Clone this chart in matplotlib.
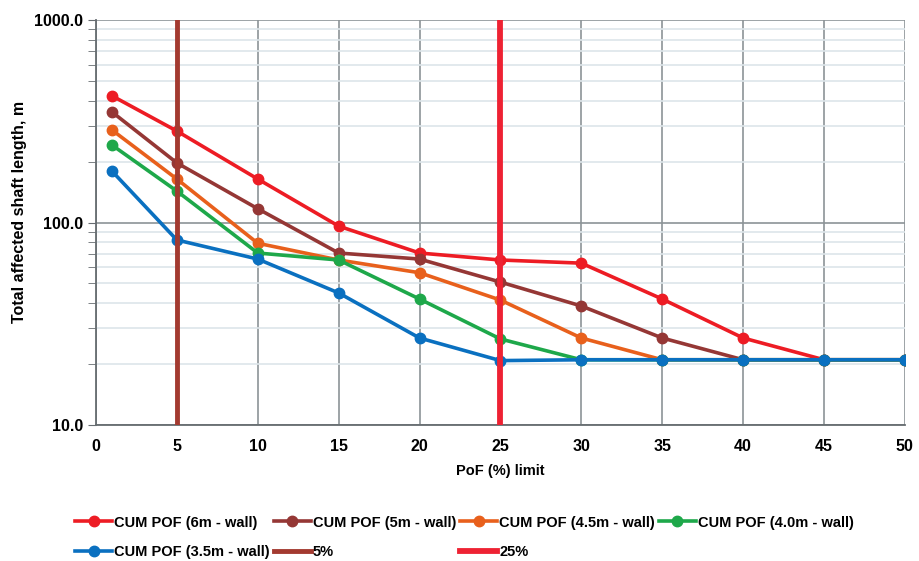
import numpy as np
import matplotlib.pyplot as plt
from matplotlib.ticker import LogLocator, FixedLocator, NullFormatter

plt.rcParams['font.family'] = ['Liberation Sans', 'DejaVu Sans']
plt.rcParams['font.weight'] = 'bold'

pof = [1, 5, 10, 15, 20, 25, 30, 35, 40, 45, 50]
cum_6m   = [422, 283, 164, 96, 70.7, 65.3, 63, 41.9, 26.9, 21, 21]
cum_5m   = [351, 197, 117, 70.7, 66, 50.8, 38.7, 26.9, 21, 21, 21]
cum_45m  = [286, 164, 79, 65.3, 56.5, 41.4, 26.9, 21, 21, 21, 21]
cum_40m  = [241, 143, 70.7, 65.3, 41.9, 26.6, 21, 21, 21, 21, 21]
cum_35m  = [179, 82, 66, 44.9, 26.9, 20.8, 21, 21, 21, 21, 21]
limit_5  = 5
limit_25 = 25

fig = plt.figure(figsize=(9.2, 5.61), dpi=100)
ax = fig.add_axes([0.1043, 0.2424, 0.8793, 0.7219])

series = [
    (cum_6m,  '#ED1C24', 'CUM POF (6m - wall)'),
    (cum_5m,  '#953735', 'CUM POF (5m - wall)'),
    (cum_45m, '#E8601C', 'CUM POF (4.5m - wall)'),
    (cum_40m, '#1EA84A', 'CUM POF (4.0m - wall)'),
    (cum_35m, '#0A70C0', 'CUM POF (3.5m - wall)'),
]
h = []
for vals, c, lab in series:
    ln, = ax.plot(pof, vals, color=c, lw=2.6, marker='o', ms=7.5,
                  mfc=c, mec=c, label=lab, zorder=3)
    h.append(ln)

l5, = ax.plot([limit_5, limit_5], [10, 1000], color='#A33A30', lw=3.5, label='5%', zorder=4)
l25, = ax.plot([limit_25, limit_25], [10, 1000], color='#EE2233', lw=4.2, label='25%', zorder=4)

ax.set_yscale('log')
ax.set_ylim(10, 1000)
ax.set_xlim(0, 50)
ax.set_xticks(np.arange(0, 51, 5))
ax.yaxis.set_major_locator(FixedLocator([10, 100, 1000]))
ax.set_yticklabels(['10.0', '100.0', '1000.0'])
ax.yaxis.set_minor_locator(LogLocator(base=10, subs=np.arange(2, 10)))
ax.yaxis.set_minor_formatter(NullFormatter())

ax.grid(which='major', axis='x', color='#8C9497', lw=1.2)
ax.grid(which='major', axis='y', color='#8C9497', lw=1.2)
ax.grid(which='minor', axis='y', color='#DDE5EA', lw=1.2)
ax.set_axisbelow(True)

for s in ['top', 'right']:
    ax.spines[s].set_visible(False)
for s in ['left', 'bottom']:
    ax.spines[s].set_color('#666C70')
    ax.spines[s].set_linewidth(1.3)

ax.tick_params(axis='y', which='major', length=6, color='#666C70', labelsize=11.5, pad=3)
ax.tick_params(axis='y', which='minor', length=6, color='#666C70')
ax.tick_params(axis='x', length=0, labelsize=11.5, pad=10)

ax.set_xlabel('PoF (%) limit', fontsize=10.5, fontweight='bold', labelpad=7)
ax.set_ylabel('Total affected shaft length, m', fontsize=11.5, fontweight='bold')
ax.yaxis.set_label_coords(-0.085, 0.525)

handles = [h[0], h[4], h[1], l5, h[2], l25, h[3]]
fig.legend(handles=handles, labels=[x.get_label() for x in handles],
           loc='upper left', bbox_to_anchor=(0.082, 0.081), ncol=4, frameon=False,
           fontsize=10.5, handlelength=2.5, handletextpad=0.15, columnspacing=0.3,
           labelspacing=1.05, borderaxespad=0, borderpad=0)

fig.savefig('out.png', dpi=100)
